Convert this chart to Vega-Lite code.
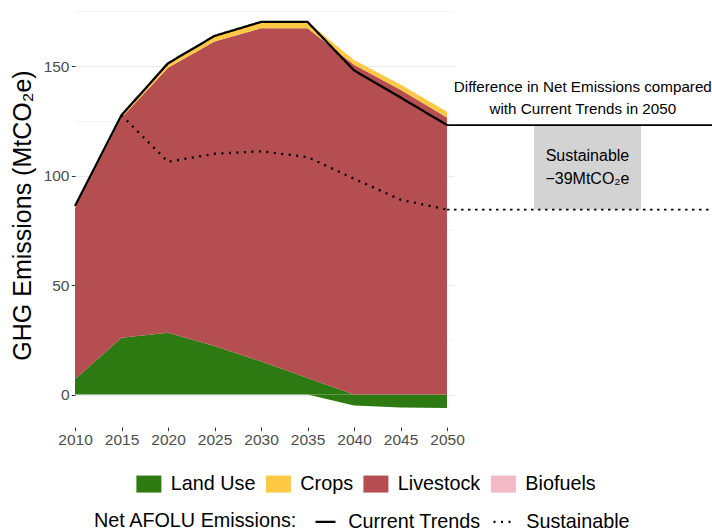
{
  "$schema": "https://vega.github.io/schema/vega-lite/v6.json",
  "width": 379,
  "height": 425,
  "autosize": {"type": "none"},
  "padding": {"left": 75, "top": 2, "right": 258, "bottom": 104},
  "background": "white",
  "config": {
    "font": "Liberation Sans",
    "view": {"stroke": null},
    "legend": {"padding": 0, "labelColor": "black", "labelFont": "Liberation Sans", "titleFont": "Liberation Sans"}
  },
  "datasets": {
    "stack": [
      {"year": 2010, "source": "Land Use", "part": "lu_neg", "layer": 1, "value": 0},
      {"year": 2015, "source": "Land Use", "part": "lu_neg", "layer": 1, "value": 0},
      {"year": 2020, "source": "Land Use", "part": "lu_neg", "layer": 1, "value": 0},
      {"year": 2025, "source": "Land Use", "part": "lu_neg", "layer": 1, "value": 0},
      {"year": 2030, "source": "Land Use", "part": "lu_neg", "layer": 1, "value": 0},
      {"year": 2035, "source": "Land Use", "part": "lu_neg", "layer": 1, "value": 0},
      {"year": 2040, "source": "Land Use", "part": "lu_neg", "layer": 1, "value": -5.0},
      {"year": 2045, "source": "Land Use", "part": "lu_neg", "layer": 1, "value": -5.9},
      {"year": 2050, "source": "Land Use", "part": "lu_neg", "layer": 1, "value": -6.1},
      {"year": 2010, "source": "Land Use", "part": "lu_pos", "layer": 2, "value": 7.0},
      {"year": 2015, "source": "Land Use", "part": "lu_pos", "layer": 2, "value": 26.0},
      {"year": 2020, "source": "Land Use", "part": "lu_pos", "layer": 2, "value": 28.2},
      {"year": 2025, "source": "Land Use", "part": "lu_pos", "layer": 2, "value": 22.2},
      {"year": 2030, "source": "Land Use", "part": "lu_pos", "layer": 2, "value": 15.2},
      {"year": 2035, "source": "Land Use", "part": "lu_pos", "layer": 2, "value": 7.6},
      {"year": 2040, "source": "Land Use", "part": "lu_pos", "layer": 2, "value": 0},
      {"year": 2045, "source": "Land Use", "part": "lu_pos", "layer": 2, "value": 0},
      {"year": 2050, "source": "Land Use", "part": "lu_pos", "layer": 2, "value": 0},
      {"year": 2010, "source": "Livestock", "part": "livestock", "layer": 3, "value": 78.1},
      {"year": 2015, "source": "Livestock", "part": "livestock", "layer": 3, "value": 100.4},
      {"year": 2020, "source": "Livestock", "part": "livestock", "layer": 3, "value": 121.1},
      {"year": 2025, "source": "Livestock", "part": "livestock", "layer": 3, "value": 139.1},
      {"year": 2030, "source": "Livestock", "part": "livestock", "layer": 3, "value": 152.1},
      {"year": 2035, "source": "Livestock", "part": "livestock", "layer": 3, "value": 159.7},
      {"year": 2040, "source": "Livestock", "part": "livestock", "layer": 3, "value": 150.6},
      {"year": 2045, "source": "Livestock", "part": "livestock", "layer": 3, "value": 139.2},
      {"year": 2050, "source": "Livestock", "part": "livestock", "layer": 3, "value": 126.5},
      {"year": 2010, "source": "Biofuels", "part": "biofuels", "layer": 4, "value": 0},
      {"year": 2015, "source": "Biofuels", "part": "biofuels", "layer": 4, "value": 0},
      {"year": 2020, "source": "Biofuels", "part": "biofuels", "layer": 4, "value": 0},
      {"year": 2025, "source": "Biofuels", "part": "biofuels", "layer": 4, "value": 0},
      {"year": 2030, "source": "Biofuels", "part": "biofuels", "layer": 4, "value": 0},
      {"year": 2035, "source": "Biofuels", "part": "biofuels", "layer": 4, "value": 0},
      {"year": 2040, "source": "Biofuels", "part": "biofuels", "layer": 4, "value": 0},
      {"year": 2045, "source": "Biofuels", "part": "biofuels", "layer": 4, "value": 0},
      {"year": 2050, "source": "Biofuels", "part": "biofuels", "layer": 4, "value": 0},
      {"year": 2010, "source": "Crops", "part": "crops", "layer": 5, "value": 1.0},
      {"year": 2015, "source": "Crops", "part": "crops", "layer": 5, "value": 1.2},
      {"year": 2020, "source": "Crops", "part": "crops", "layer": 5, "value": 2.0},
      {"year": 2025, "source": "Crops", "part": "crops", "layer": 5, "value": 2.5},
      {"year": 2030, "source": "Crops", "part": "crops", "layer": 5, "value": 2.9},
      {"year": 2035, "source": "Crops", "part": "crops", "layer": 5, "value": 2.9},
      {"year": 2040, "source": "Crops", "part": "crops", "layer": 5, "value": 2.2},
      {"year": 2045, "source": "Crops", "part": "crops", "layer": 5, "value": 2.4},
      {"year": 2050, "source": "Crops", "part": "crops", "layer": 5, "value": 2.7}
    ],
    "lines": [
      {"year": 2010, "value": 86.1, "scenario": "Current Trends"},
      {"year": 2015, "value": 127.6, "scenario": "Current Trends"},
      {"year": 2020, "value": 151.3, "scenario": "Current Trends"},
      {"year": 2025, "value": 163.8, "scenario": "Current Trends"},
      {"year": 2030, "value": 170.2, "scenario": "Current Trends"},
      {"year": 2035, "value": 170.2, "scenario": "Current Trends"},
      {"year": 2040, "value": 148.1, "scenario": "Current Trends"},
      {"year": 2045, "value": 135.7, "scenario": "Current Trends"},
      {"year": 2050, "value": 123.1, "scenario": "Current Trends"},
      {"year": 2015, "value": 127.6, "scenario": "Sustainable"},
      {"year": 2020, "value": 106.3, "scenario": "Sustainable"},
      {"year": 2025, "value": 110.0, "scenario": "Sustainable"},
      {"year": 2030, "value": 111.1, "scenario": "Sustainable"},
      {"year": 2035, "value": 108.5, "scenario": "Sustainable"},
      {"year": 2040, "value": 98.6, "scenario": "Sustainable"},
      {"year": 2045, "value": 89.0, "scenario": "Sustainable"},
      {"year": 2050, "value": 84.5, "scenario": "Sustainable"}
    ]
  },
  "encoding": {
    "x": {
      "field": "year", "type": "quantitative",
      "scale": {"domain": [2010, 2050.75], "nice": false, "zero": false},
      "axis": {
        "values": [2010, 2015, 2020, 2025, 2030, 2035, 2040, 2045, 2050],
        "format": "d", "title": null, "grid": false, "domain": false,
        "ticks": true, "tickSize": 3.7, "tickColor": "#333333", "tickWidth": 1,
        "labelFontSize": 15.5, "labelColor": "#4D4D4D", "labelPadding": 2,
        "labelFlush": false, "labelOverlap": false
      }
    },
    "y": {
      "field": "value", "type": "quantitative",
      "scale": {"domain": [-14.8, 179.3], "nice": false, "zero": false},
      "axis": {
        "values": [0, 25, 50, 75, 100, 125, 150, 175],
        "labelExpr": "datum.value % 50 === 0 ? datum.label : ''",
        "grid": true, "gridColor": "#EBEBEB",
        "gridWidth": {"condition": {"test": "datum.value % 50 === 0", "value": 1.1}, "value": 0.55},
        "tickOpacity": {"condition": {"test": "datum.value % 50 === 0", "value": 1}, "value": 0},
        "domain": false, "tickSize": 3.7, "tickColor": "#333333", "tickWidth": 1,
        "labelFontSize": 15.5, "labelColor": "#4D4D4D", "labelPadding": 2.3,
        "labelFlush": false, "labelOverlap": false,
        "title": "GHG Emissions (MtCO₂e)", "titleFontSize": 25, "titleFontWeight": "normal",
        "titleColor": "black", "titleX": -53, "titleY": 213, "titleAngle": -90,
        "titleAlign": "center", "titleBaseline": "middle"
      }
    }
  },
  "layer": [
    {
      "data": {"name": "stack"},
      "mark": {"type": "area", "clip": false},
      "encoding": {
        "color": {
          "field": "source", "type": "nominal",
          "scale": {"domain": ["Land Use", "Crops", "Livestock", "Biofuels"], "range": ["#2D7A13", "#FFC845", "#B54E50", "#F2B9C7"]},
          "legend": {
            "title": null, "orient": "none", "direction": "horizontal",
            "legendX": 64, "legendY": 472,
            "symbolType": "M-1.47,-1H1.47V1H-1.47Z", "symbolSize": 289, "symbolStrokeWidth": 0,
            "labelFontSize": 19.8, "labelOffset": 12, "columnPadding": 9.5
          }
        },
        "detail": {"field": "part"},
        "order": {"field": "layer", "type": "quantitative"}
      }
    },
    {
      "data": {"name": "lines"},
      "mark": {"type": "line", "clip": false, "strokeWidth": 2.3, "color": "black", "strokeCap": "butt"},
      "encoding": {
        "strokeDash": {
          "field": "scenario", "type": "nominal",
          "scale": {"domain": ["Current Trends", "Sustainable"], "range": [[1, 0], [2, 5.5]]},
          "legend": {
            "title": "Net AFOLU Emissions:", "titleOrient": "left", "titleFontSize": 19.8,
            "titleFontWeight": "normal", "titleColor": "black", "titlePadding": 16, "titleLimit": 400,
            "orient": "none", "direction": "horizontal", "legendX": 19, "legendY": 508,
            "symbolType": "stroke", "symbolSize": 400, "symbolStrokeColor": "black", "symbolStrokeWidth": 2.3,
            "labelFontSize": 19.8, "labelOffset": 11.2, "columnPadding": 7
          }
        }
      }
    },
    {
      "data": {"values": [{"year": 2059.35, "year2": 2070.86, "value": 84.5, "value2": 123.1}]},
      "mark": {"type": "rect", "clip": false, "color": "#D3D3D3"},
      "encoding": {
        "x2": {"field": "year2"},
        "y2": {"field": "value2"}
      }
    },
    {
      "data": {"values": [{"year": 2050, "year2": 2080, "value": 123.1}]},
      "mark": {"type": "rule", "clip": false, "color": "black", "strokeWidth": 1.7},
      "encoding": {
        "x2": {"field": "year2"}
      }
    },
    {
      "data": {"values": [{"year": 2050, "year2": 2080, "value": 84.5}]},
      "mark": {"type": "rule", "clip": false, "color": "black", "strokeWidth": 1.7, "strokeDash": [2.5, 4.5]},
      "encoding": {
        "x2": {"field": "year2"}
      }
    },
    {
      "data": {"values": [
        {"year": 2064.6, "value": 140.6, "label": "Difference in Net Emissions compared"},
        {"year": 2064.6, "value": 130.6, "label": "with Current Trends in 2050"}
      ]},
      "mark": {"type": "text", "clip": false, "fontSize": 15.2, "color": "black", "align": "center", "baseline": "middle"},
      "encoding": {
        "text": {"field": "label"}
      }
    },
    {
      "data": {"values": [
        {"year": 2065.1, "value": 108.8, "label": "Sustainable"},
        {"year": 2065.1, "value": 98.6, "label": "−39MtCO₂e"}
      ]},
      "mark": {"type": "text", "clip": false, "fontSize": 16, "color": "black", "align": "center", "baseline": "middle"},
      "encoding": {
        "text": {"field": "label"}
      }
    }
  ]
}
